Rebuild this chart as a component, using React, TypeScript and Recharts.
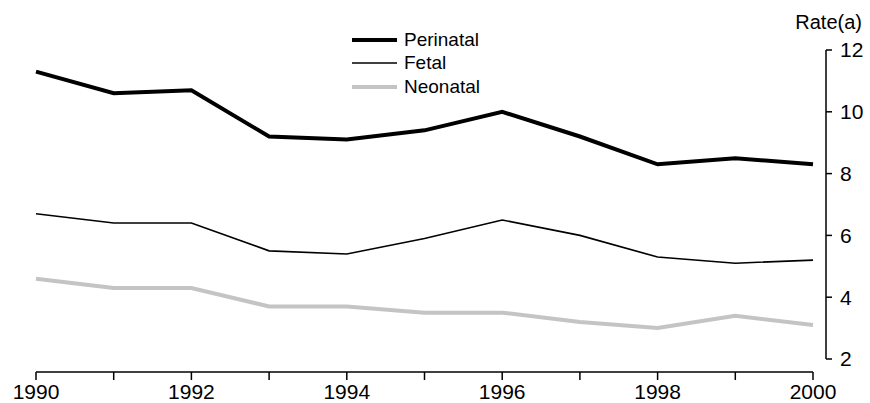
import React from 'react';
import { LineChart, Line, XAxis, YAxis, Legend } from 'recharts';

const years = [1990, 1991, 1992, 1993, 1994, 1995, 1996, 1997, 1998, 1999, 2000];
const perinatal = [11.3, 10.6, 10.7, 9.2, 9.1, 9.4, 10.0, 9.2, 8.3, 8.5, 8.3];
const fetal = [6.7, 6.4, 6.4, 5.5, 5.4, 5.9, 6.5, 6.0, 5.3, 5.1, 5.2];
const neonatal = [4.6, 4.3, 4.3, 3.7, 3.7, 3.5, 3.5, 3.2, 3.0, 3.4, 3.1];

const xTicks = [1990, 1992, 1994, 1996, 1998, 2000];
const xMinorTicks = years;
const yTicks = [2, 4, 6, 8, 10, 12];

const data = years.map((year, i) => ({
    year,
    perinatal: perinatal[i],
    fetal: fetal[i],
    neonatal: neonatal[i],
}));

const series = [
    { key: 'perinatal', name: 'Perinatal', color: '#000000', width: 4 },
    { key: 'fetal', name: 'Fetal', color: '#000000', width: 1.6 },
    { key: 'neonatal', name: 'Neonatal', color: '#c4c4c4', width: 4 },
];

const FONT = '"Liberation Sans", Arial, sans-serif';

const renderLegend = () => (
    <div style={{ fontFamily: FONT, fontSize: 19, color: '#000' }}>
        {series.map((s) => (
            <div key={s.key} style={{ display: 'flex', alignItems: 'center', height: 23.5 }}>
                <svg width={45} height={10} style={{ marginRight: 7 }}>
                    <line x1={0} y1={5} x2={45} y2={5} stroke={s.color} strokeWidth={s.width} />
                </svg>
                <span>{s.name}</span>
            </div>
        ))}
    </div>
);

// x tick label only on even years, tick mark on every year
const XTick = (props: any) => {
    const { x, y, payload } = props;
    const show = xTicks.includes(payload.value);
    return (
        <g>
            <line x1={x} y1={y - 13} x2={x} y2={y - 5} stroke="#000" strokeWidth={1.5} />
            {show && (
                <text x={x} y={y - 1} dy="0.71em" textAnchor="middle" fill="#000" fontSize={21} fontFamily={FONT}>
                    {payload.value}
                </text>
            )}
        </g>
    );
};

const RateLabel = (props: any) => {
    const { viewBox } = props;
    return (
        <text
            x={viewBox.x + viewBox.width - 8}
            y={viewBox.y - 28}
            textAnchor="end"
            dominantBaseline="central"
            fontSize={20}
            fontFamily={FONT}
            fill="#000"
        >
            Rate(a)
        </text>
    );
};

const App: React.FC = () => {
    return (
        <div style={{ width: 870, height: 403, background: '#fff' }}>
            <style>{`body { margin: 0; }`}</style>
            <LineChart width={870} height={403} data={data} margin={{ top: 50, right: 0, bottom: 0, left: 36 }}>
                <XAxis
                    dataKey="year"
                    type="number"
                    domain={[1990, 2000]}
                    ticks={xMinorTicks}
                    interval={0}
                    padding={{ left: 0, right: 13 }}
                    height={31}
                    axisLine={{ stroke: '#000', strokeWidth: 1.5, strokeDasharray: '777 100' }}
                    tickLine={false}
                    tickSize={7}
                    tickMargin={6}
                    tick={<XTick />}
                />
                <YAxis
                    orientation="right"
                    domain={[2, 12]}
                    ticks={yTicks}
                    width={44}
                    padding={{ top: 0, bottom: 13 }}
                    axisLine={{ stroke: '#000', strokeWidth: 1.5, strokeDasharray: '309 100' }}
                    tickLine={{ stroke: '#000', strokeWidth: 1.5 }}
                    tickSize={6}
                    tickMargin={8}
                    tick={{ fill: '#000', fontSize: 21, fontFamily: FONT }}
                    label={<RateLabel />}
                />
                <Legend
                    content={renderLegend}
                    layout="vertical"
                    align="center"
                    verticalAlign="middle"
                    wrapperStyle={{ left: 352, top: 28, width: 'auto' }}
                />
                {series.map((s) => (
                    <Line
                        key={s.key}
                        dataKey={s.key}
                        name={s.name}
                        stroke={s.color}
                        strokeWidth={s.width}
                        dot={false}
                        activeDot={false}
                        isAnimationActive={false}
                    />
                ))}
            </LineChart>
        </div>
    );
};

export default App;
